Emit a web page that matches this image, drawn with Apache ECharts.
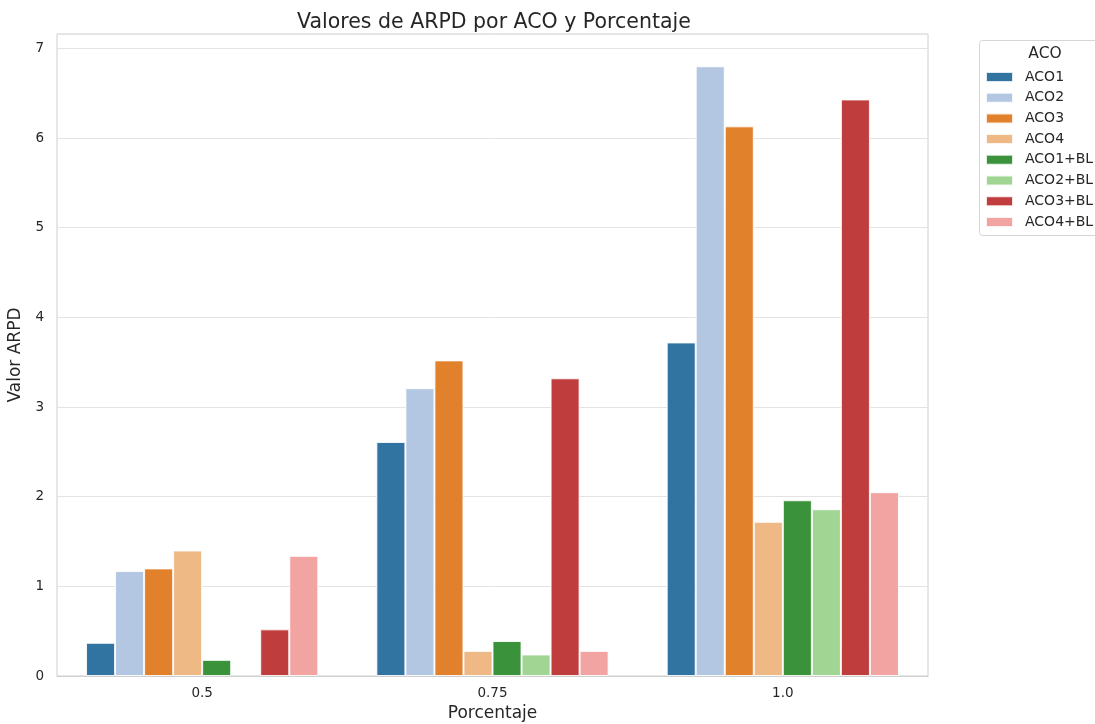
<!DOCTYPE html>
<html>
<head>
<meta charset="utf-8">
<script src="https://cdn.jsdelivr.net/npm/echarts@6/dist/echarts.min.js"></script>
<style>html,body{margin:0;padding:0;background:#fff}#c{width:1095px;height:724px}</style>
</head>
<body>
<div id="c"></div>
<script>
const categories = ['0.5', '0.75', '1.0'];
const seriesNames = ['ACO1', 'ACO2', 'ACO3', 'ACO4', 'ACO1+BL', 'ACO2+BL', 'ACO3+BL', 'ACO4+BL'];
const aco1 = [0.37, 2.61, 3.72];
const aco2 = [1.17, 3.21, 6.80];
const aco3 = [1.20, 3.52, 6.13];
const aco4 = [1.40, 0.28, 1.72];
const aco1bl = [0.18, 0.39, 1.96];
const aco2bl = [null, 0.24, 1.86];
const aco3bl = [0.52, 3.32, 6.43];
const aco4bl = [1.34, 0.28, 2.05];
const seriesValues = [aco1, aco2, aco3, aco4, aco1bl, aco2bl, aco3bl, aco4bl];
const colors = ['#3274a1', '#b3c7e2', '#e1812c', '#efb986', '#3a923a', '#a0d594', '#c03d3e', '#f2a4a3'];
const yTicks = [0, 1, 2, 3, 4, 5, 6, 7];

const FONT = 'DejaVu Sans';
const chart = echarts.init(document.getElementById('c'), null, {renderer: 'canvas'});
chart.setOption({
  animation: false,
  backgroundColor: '#ffffff',
  color: colors,
  title: {
    text: 'Valores de ARPD por ACO y Porcentaje',
    left: 292, top: 7,
    textStyle: {fontFamily: FONT, fontSize: 20.5, fontWeight: 'normal', color: '#262626'}
  },
  grid: {left: 57, right: 167, top: 34, bottom: 48, containLabel: false, outerBoundsMode: 'none',
    show: true, borderColor: '#cfcfcf', borderWidth: 1, backgroundColor: 'transparent'},
  legend: {
    orient: 'vertical', left: 980, top: 65, z: 10,
    itemWidth: 27, itemHeight: 10, itemGap: 6.7,
    icon: 'rect',
    data: seriesNames,
    textStyle: {fontFamily: FONT, fontSize: 14, color: '#262626', lineHeight: 14, padding: [0, 0, 0, 7]}
  },
  graphic: [
    {type: 'rect', z: 1, shape: {x: 979.5, y: 40.5, width: 130, height: 195, r: 3}, style: {fill: '#fff', stroke: '#d6d6d6', lineWidth: 1}},
    {type: 'text', z: 2, x: 1045, y: 54, style: {text: 'ACO', fontFamily: FONT, fontSize: 15.5, fill: '#262626', align: 'center', verticalAlign: 'middle'}}
  ],
  xAxis: {
    type: 'category', data: categories,
    name: 'Porcentaje', nameLocation: 'middle', nameGap: 29.5,
    nameTextStyle: {fontFamily: FONT, fontSize: 17, color: '#262626'},
    axisLine: {show: true, lineStyle: {color: '#cfcfcf'}},
    axisTick: {show: false},
    axisLabel: {fontFamily: FONT, fontSize: 13.5, color: '#262626', margin: 10},
    splitLine: {show: false}
  },
  yAxis: {
    type: 'value', min: 0, max: 7.16, interval: 1,
    name: 'Valor ARPD', nameLocation: 'middle', nameGap: 28.5,
    nameTextStyle: {fontFamily: FONT, fontSize: 17, color: '#262626'},
    axisLine: {show: false}, axisTick: {show: false},
    axisLabel: {fontFamily: FONT, fontSize: 13.5, color: '#262626', margin: 13,
      formatter: v => (yTicks.indexOf(Math.round(v * 1000) / 1000) >= 0 ? String(v) : '')},
    splitLine: {lineStyle: {color: '#e3e3e3', width: 1}}
  },
  series: seriesNames.map((n, i) => ({
    name: n, type: 'bar', data: seriesValues[i],
    barGap: '0%', barCategoryGap: '20%',
    itemStyle: {color: colors[i], borderColor: 'rgba(255,255,255,0.85)', borderWidth: 1}
  }))
});
</script>
</body>
</html>
